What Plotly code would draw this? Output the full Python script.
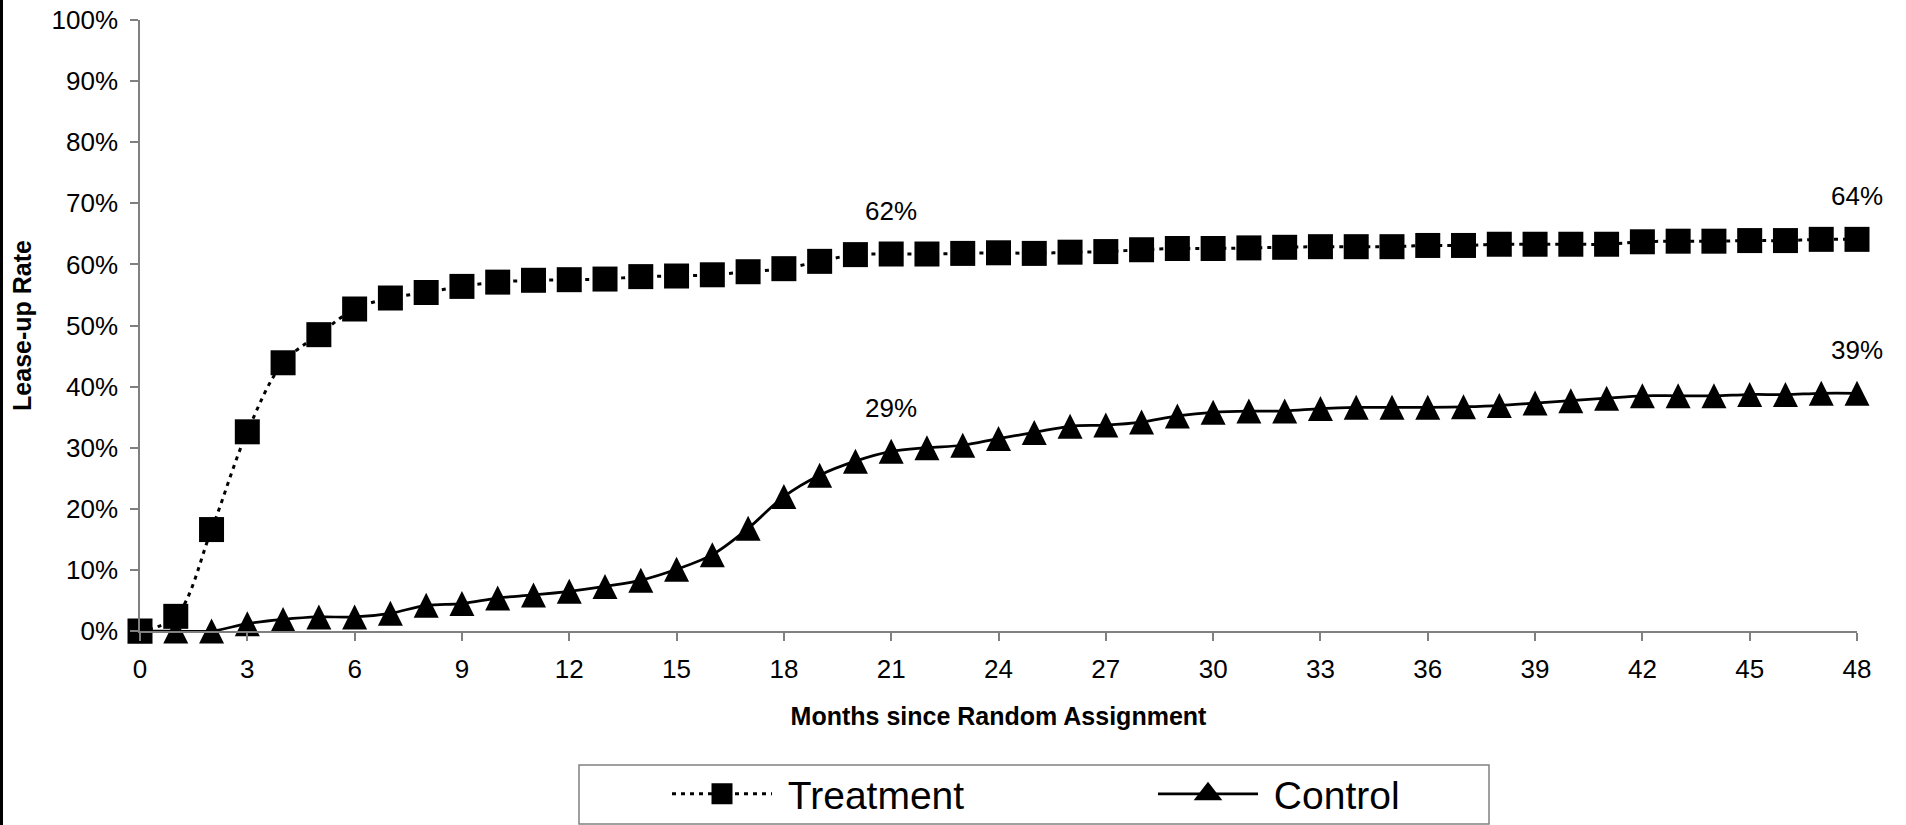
import plotly.graph_objects as go

# Lease-up rate by month since random assignment (percent)
months = list(range(49))
treatment = [0.0, 2.4, 16.6, 32.6, 43.9, 48.5, 52.7, 54.5, 55.4, 56.4,
             57.1, 57.4, 57.5, 57.6, 58.0, 58.1, 58.3, 58.8, 59.3, 60.5,
             61.6, 61.7, 61.7, 61.8, 61.9, 61.8, 62.0, 62.1, 62.4, 62.6,
             62.6, 62.7, 62.8, 62.9, 62.9, 62.9, 63.1, 63.1, 63.3, 63.3,
             63.3, 63.3, 63.7, 63.8, 63.8, 63.9, 63.9, 64.1, 64.1]
control = [0.0, 0.0, 0.0, 1.2, 1.9, 2.3, 2.3, 2.9, 4.2, 4.5,
           5.4, 5.9, 6.5, 7.3, 8.3, 10.1, 12.5, 16.8, 22.0, 25.5,
           27.8, 29.4, 30.0, 30.4, 31.5, 32.5, 33.5, 33.7, 34.2, 35.2,
           35.8, 36.0, 36.0, 36.4, 36.6, 36.6, 36.6, 36.7, 36.9, 37.3,
           37.7, 38.1, 38.5, 38.5, 38.5, 38.7, 38.7, 38.9, 38.9]
series_names = ["Treatment", "Control"]
labelled_months = [21, 48]
x_ticks = list(range(0, 49, 3))
y_ticks = [i / 10 for i in range(11)]

FONT = "Arial, 'Liberation Sans', sans-serif"
AXIS_GREY = "#808080"
NBSP = "\u00a0"

W, H = 1906, 825
ML, MR, MT, MB = 140, 49, 20, 194
PW, PH = W - ML - MR, H - MT - MB

TRI_SIZE = 25

treat_line = dict(color="black", width=3, dash="4px,5px", shape="spline")
ctrl_line = dict(color="black", width=2.75, shape="spline")


def px_to_paper_x(px):
    return (px - ML) / PW


def px_to_paper_y(py):
    return (H - MB - py) / PH


fig = go.Figure()

fig.add_trace(go.Scatter(
    x=months, y=[v / 100 for v in treatment], name=series_names[0],
    mode="lines+markers", line=treat_line,
    marker=dict(symbol="square", size=25, color="black"),
    cliponaxis=False, showlegend=False,
))
# Upright triangle as tall as it is wide, centred on each point:
# a downward arrow turned half a turn and pushed back by half its size.
fig.add_trace(go.Scatter(
    x=months, y=[v / 100 for v in control], name=series_names[1],
    mode="lines+markers", line=ctrl_line,
    marker=dict(symbol="arrow-down", angle=180, standoff=TRI_SIZE / 2,
                size=TRI_SIZE, color="black"),
    cliponaxis=False, showlegend=False,
))

# Legend keys (no data): the legend caps marker size, so a thick outline
# brings the key glyphs up to the size of the plotted markers.
fig.add_trace(go.Scatter(
    x=[None], y=[None], name=NBSP + series_names[0],
    mode="lines+markers", line=treat_line,
    marker=dict(symbol="square", size=16, color="black",
                line=dict(color="black", width=5)),
))
fig.add_trace(go.Scatter(
    x=[None], y=[None], name=NBSP + series_names[1],
    mode="lines+markers", line=ctrl_line,
    marker=dict(symbol="triangle-up", size=16, color="black",
                line=dict(color="black", width=5)),
))

# Value labels above selected points
for series in (treatment, control):
    for m in labelled_months:
        v = series[m] / 100
        fig.add_annotation(
            x=m, y=v, text=f"{v:.0%}", showarrow=False, yshift=43,
            font=dict(family=FONT, size=26, color="black"),
        )

# Legend frame and left page rule
fig.add_shape(type="rect", xref="paper", yref="paper",
              x0=px_to_paper_x(579), x1=px_to_paper_x(1489),
              y0=px_to_paper_y(824), y1=px_to_paper_y(765),
              line=dict(color=AXIS_GREY, width=1.5))
fig.add_shape(type="line", xref="paper", yref="paper",
              x0=px_to_paper_x(1.5), x1=px_to_paper_x(1.5),
              y0=px_to_paper_y(H), y1=px_to_paper_y(0),
              line=dict(color="black", width=3))

fig.update_layout(
    width=W, height=H,
    margin=dict(l=ML, r=MR, t=MT, b=MB, autoexpand=False),
    paper_bgcolor="white", plot_bgcolor="white",
    font=dict(family=FONT, color="black"),
    showlegend=True,
    legend=dict(
        orientation="h", x=px_to_paper_x(667), y=px_to_paper_y(794),
        xanchor="left", yanchor="middle",
        font=dict(family=FONT, size=39, color="black"),
        itemwidth=100, entrywidth=371, entrywidthmode="pixels",
        bgcolor="rgba(0,0,0,0)", borderwidth=0,
    ),
    xaxis=dict(
        range=[0, 48], tickvals=x_ticks, ticks="outside", ticklen=8,
        tickcolor=AXIS_GREY, tickwidth=1.5, showline=True,
        linecolor=AXIS_GREY, linewidth=1.5, showgrid=False, zeroline=False,
        tickfont=dict(family=FONT, size=26, color="black"),
        ticklabelstandoff=6,
        title=dict(text="<b>Months since Random Assignment</b>",
                   font=dict(family=FONT, size=25, color="black"),
                   standoff=25),
    ),
    yaxis=dict(
        range=[0, 1], tickvals=y_ticks, tickformat=".0%", ticks="outside",
        ticklen=8, tickcolor=AXIS_GREY, tickwidth=1.5, showline=True,
        linecolor=AXIS_GREY, linewidth=1.5, showgrid=False, zeroline=False,
        tickfont=dict(family=FONT, size=26, color="black"),
        ticklabelstandoff=7,
        title=dict(text="<b>Lease-up Rate</b>",
                   font=dict(family=FONT, size=25, color="black"),
                   standoff=13),
    ),
)

fig.write_html("out.html")
